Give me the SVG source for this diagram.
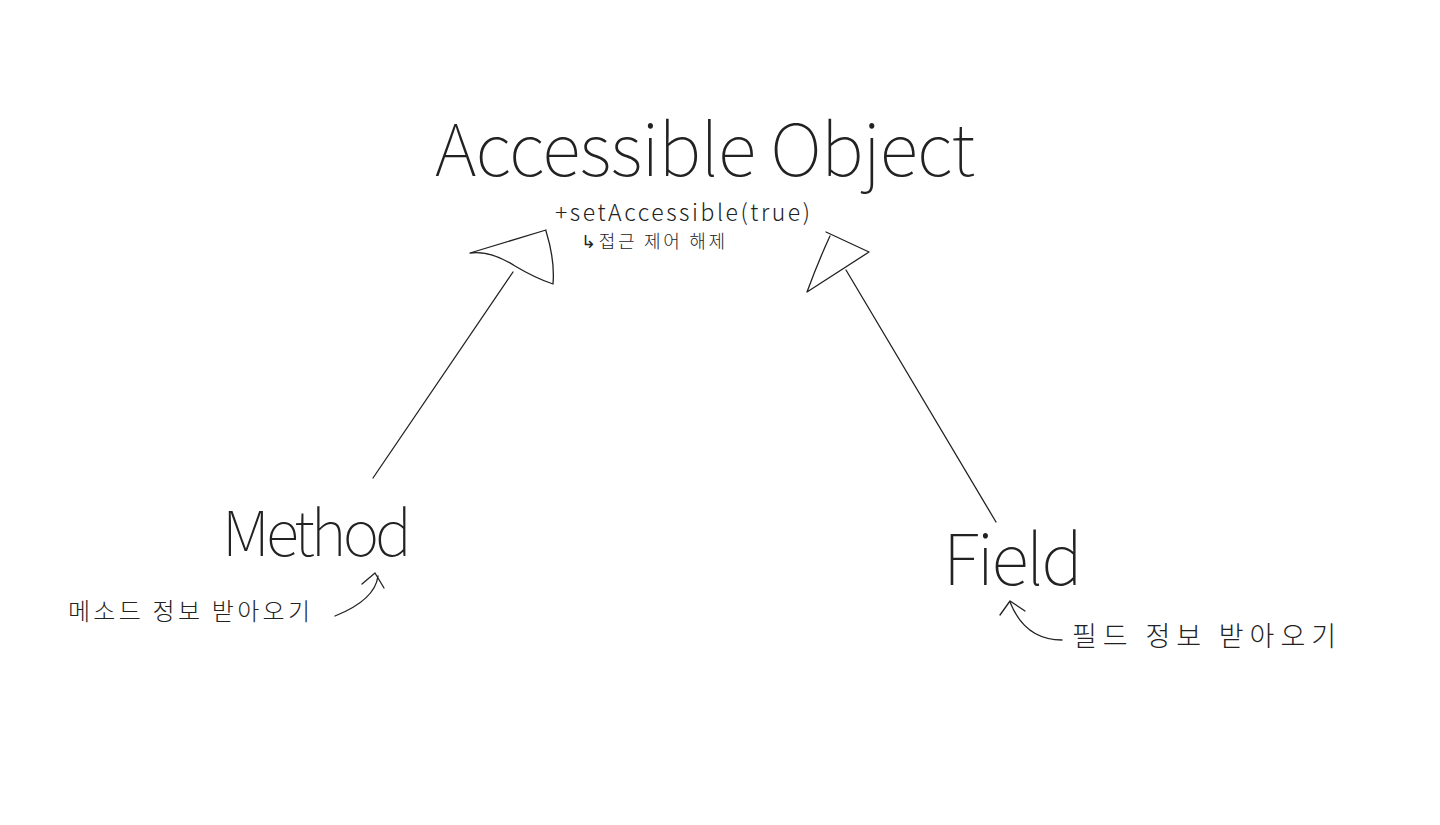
<svg xmlns="http://www.w3.org/2000/svg" width="1440" height="825" viewBox="0 0 1440 825">
<style>
.t{font-family:"Noto Sans CJK KR","Noto Sans","Liberation Sans",sans-serif;fill:#222;font-weight:100}
.k{font-family:"Noto Sans CJK KR","Liberation Sans",sans-serif;fill:#222;font-weight:300}
.s{fill:none;stroke:#222;stroke-width:1.3;stroke-linecap:round;stroke-linejoin:round}
</style>
<rect width="1440" height="825" fill="#fff"/>
<g id="accessible-object">
<text class="t" x="435" y="176" font-size="72" textLength="540" lengthAdjust="spacing">Accessible Object</text>
<text class="t" x="555" y="221" font-size="23" textLength="255" lengthAdjust="spacing" style="font-weight:300">+setAccessible(true)</text>
<text class="k" x="581" y="248" font-size="18" textLength="144" lengthAdjust="spacing">↳접근 제어 해제</text>
</g>
<g id="method">
<text class="t" x="222" y="556" font-size="62" textLength="190" lengthAdjust="spacing">Method</text>
<text class="k" x="68" y="620" font-size="24" textLength="242" lengthAdjust="spacing">메소드 정보 받아오기</text>
</g>
<g id="field">
<text class="t" x="943" y="585" font-size="70" textLength="140" lengthAdjust="spacing">Field</text>
<text class="k" x="1072" y="646" font-size="27" textLength="264" lengthAdjust="spacing">필드 정보 받아오기</text>
</g>
<g id="connectors">
<path class="s" d="M373,478 L513,272"/>
<path class="s" d="M546,230 L470,253 Q490,250 515,266 Q535,278 553,284 Q555,260 546,231"/>
<path class="s" d="M846,270 L996,522"/>
<path class="s" d="M826,232 L869,252 L807,292 Q818,262 830,236"/>
<path class="s" d="M335,616 Q375,600 378,576"/>
<path class="s" d="M362,584 L375,573 L384,588"/>
<path class="s" d="M1062,640 Q1025,640 1010,602"/>
<path class="s" d="M1000,615 L1010,601 L1025,611"/>
</g>
</svg>
